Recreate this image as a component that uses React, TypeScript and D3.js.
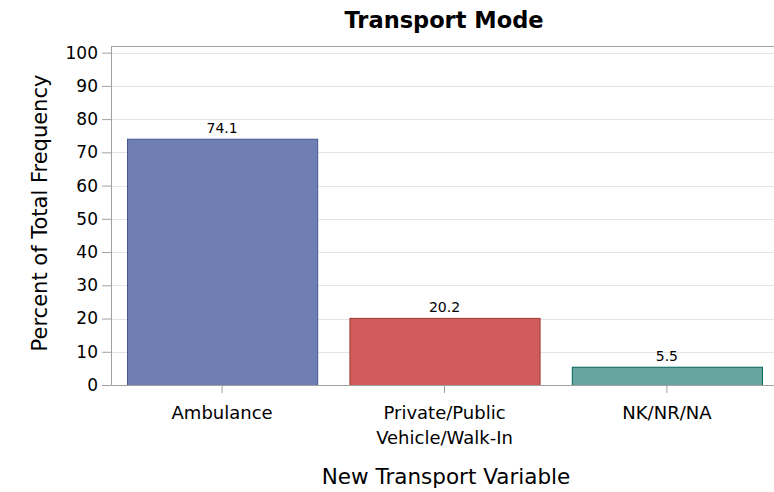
import { useEffect, useRef } from 'react';
import * as d3 from 'd3';

const categories = ['Ambulance', 'Private/Public Vehicle/Walk-In', 'NK/NR/NA'];
const categoryLines = [['Ambulance'], ['Private/Public', 'Vehicle/Walk-In'], ['NK/NR/NA']];
const percents = [74.1, 20.2, 5.5];
const yTicks = [0, 10, 20, 30, 40, 50, 60, 70, 80, 90, 100];
const fills = ['#6F7EB3', '#D05B5B', '#66A5A0'];
const outlines = ['#445694', '#A23A2E', '#01665E'];

const FONT = "'DejaVu Sans', sans-serif";

export default function App() {
  const svgRef = useRef<SVGSVGElement>(null);

  useEffect(() => {
    document.body.style.margin = '0';
    if (!svgRef.current) return;

    const width = 774;
    const height = 492;
    const margin = { top: 46, right: -4, bottom: 107, left: 111 };
    const innerWidth = width - margin.left - margin.right;
    const innerHeight = height - margin.top - margin.bottom;

    d3.select(svgRef.current).selectAll('*').remove();

    const svg = d3
      .select(svgRef.current)
      .attr('width', width)
      .attr('height', height)
      .attr('viewBox', `0 0 ${width} ${height}`)
      .style('display', 'block')
      .style('font-family', FONT);

    const g = svg
      .append('g')
      .attr('transform', `translate(${margin.left},${margin.top})`);

    const x = d3
      .scaleBand<string>()
      .domain(categories)
      .range([0, innerWidth])
      .paddingInner(0.145)
      .paddingOuter(0.072);

    const y = d3.scaleLinear().domain([0, 102]).range([innerHeight, 0]);

    // gridlines
    g.append('g')
      .selectAll('line')
      .data(yTicks.filter((t) => t > 0))
      .join('line')
      .attr('x1', 0)
      .attr('x2', innerWidth)
      .attr('y1', (d) => Math.round(y(d)) + 0.5)
      .attr('y2', (d) => Math.round(y(d)) + 0.5)
      .attr('stroke', '#E4E4E4')
      .attr('stroke-width', 1);

    // top border
    g.append('line')
      .attr('x1', 0)
      .attr('x2', innerWidth)
      .attr('y1', 0.5)
      .attr('y2', 0.5)
      .attr('stroke', '#A0A0A0');

    // bars
    g.selectAll('.bar')
      .data(percents)
      .join('rect')
      .attr('class', 'bar')
      .attr('x', (_, i) => x(categories[i])! + 0.5)
      .attr('y', (d) => y(d) + 0.5)
      .attr('width', x.bandwidth())
      .attr('height', (d) => innerHeight - y(d))
      .attr('fill', (_, i) => fills[i])
      .attr('stroke', (_, i) => outlines[i])
      .attr('stroke-width', 1);

    // bar labels
    g.selectAll('.bar-label')
      .data(percents)
      .join('text')
      .attr('class', 'bar-label')
      .attr('x', (_, i) => x(categories[i])! + x.bandwidth() / 2)
      .attr('y', (d) => y(d) - 6)
      .attr('text-anchor', 'middle')
      .attr('font-size', 14)
      .attr('fill', '#000')
      .text((d) => d.toFixed(1));

    // y axis
    const yAxis = g
      .append('g')
      .call(d3.axisLeft(y).tickValues(yTicks).tickSize(9).tickSizeOuter(0).tickPadding(4));
    yAxis.select('.domain').attr('stroke', '#A0A0A0');
    yAxis.selectAll('.tick line').attr('stroke', '#A0A0A0');
    yAxis
      .selectAll('text')
      .attr('font-size', 17)
      .attr('font-family', FONT)
      .attr('fill', '#000');

    // x axis
    const xAxis = g
      .append('g')
      .attr('transform', `translate(0,${innerHeight})`)
      .call(d3.axisBottom(x).tickSize(8).tickSizeOuter(0).tickFormat(() => ''));
    xAxis.select('.domain').attr('stroke', '#A0A0A0');
    xAxis.selectAll('.tick line').attr('stroke', '#A0A0A0');

    g.selectAll('.cat-label')
      .data(categories)
      .join('text')
      .attr('class', 'cat-label')
      .attr('x', (d) => x(d)! + x.bandwidth() / 2)
      .attr('y', innerHeight + 34)
      .attr('text-anchor', 'middle')
      .attr('font-size', 18)
      .attr('fill', '#000')
      .each(function (_, i) {
        const t = d3.select(this);
        categoryLines[i].forEach((line, j) => {
          t.append('tspan')
            .attr('x', x(categories[i])! + x.bandwidth() / 2)
            .attr('dy', j === 0 ? 0 : 25)
            .text(line);
        });
      });

    // axis titles
    svg
      .append('text')
      .attr('x', 446)
      .attr('y', 484)
      .attr('text-anchor', 'middle')
      .attr('font-size', 21.5)
      .attr('fill', '#000')
      .text('New Transport Variable');

    svg
      .append('text')
      .attr('transform', `translate(47,213) rotate(-90)`)
      .attr('text-anchor', 'middle')
      .attr('font-size', 21)
      .attr('fill', '#000')
      .text('Percent of Total Frequency');

    // title
    svg
      .append('text')
      .attr('x', 444)
      .attr('y', 28)
      .attr('text-anchor', 'middle')
      .attr('font-weight', 'bold')
      .attr('font-size', 22.5)
      .attr('fill', '#000')
      .text('Transport Mode');
  }, []);

  return <svg ref={svgRef} />;
}
